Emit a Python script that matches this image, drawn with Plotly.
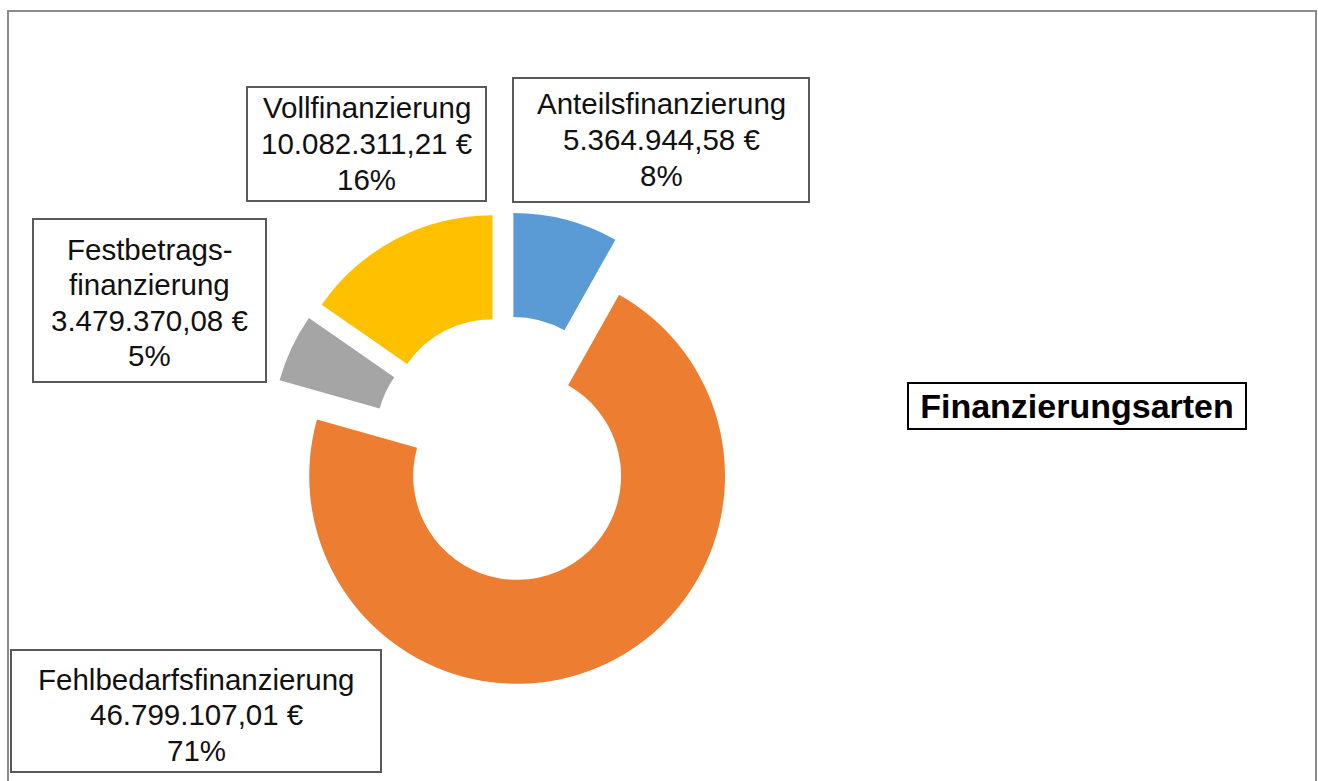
import plotly.graph_objects as go

# ---- data ----
categories = ["Anteilsfinanzierung", "Fehlbedarfsfinanzierung",
              "Festbetragsfinanzierung", "Vollfinanzierung"]
label_names = [["Anteilsfinanzierung"], ["Fehlbedarfsfinanzierung"],
               ["Festbetrags-", "finanzierung"], ["Vollfinanzierung"]]
amounts_eur = [5364944.58, 46799107.01, 3479370.08, 10082311.21]
percent_labels = ["8%", "71%", "5%", "16%"]
colors = ["#5B9BD5", "#ED7D31", "#A5A5A5", "#FFC000"]
title_text = "Finanzierungsarten"

W, H = 1318, 781
FONT = "Liberation Sans, Arial, sans-serif"


def fmt_eur(v):
    s = f"{v:,.2f}"
    s = s.replace(",", "X").replace(".", ",").replace("X", ".")
    return s + " €"


def px(x):
    return x / W


def py(y):
    return 1 - y / H


# pie placement (pixel centre and half-size including pull)
cx, cy, half = 506, 449, 237
pull = 0.14

fig = go.Figure(go.Pie(
    labels=categories,
    values=amounts_eur,
    sort=False,
    direction="clockwise",
    rotation=0,
    hole=0.5,
    pull=[pull] * len(categories),
    marker=dict(colors=colors, line=dict(width=0)),
    textinfo="none",
    showlegend=False,
    domain=dict(x=[px(cx - half), px(cx + half)],
                y=[py(cy + half), py(cy - half)]),
))

# label boxes: (x0, y0, x1, y1, first line centre y) in pixels
boxes = [
    (513, 78, 809, 202, 104),    # Anteils
    (11, 650, 381, 772, 679),    # Fehlbedarf
    (33, 219, 266, 382, 249),    # Festbetrag
    (247, 87, 486, 201, 108),    # Voll
]
line_step = 35.5

shapes = [dict(
    type="rect", xref="paper", yref="paper",
    x0=px(8), x1=px(1316), y0=py(800), y1=py(11),
    line=dict(color="#8C8C8C", width=2), fillcolor="rgba(0,0,0,0)",
    layer="below",
)]
annotations = []
for name_lines, amt, pct, (x0, y0, x1, y1, ly) in zip(
        label_names, amounts_eur, percent_labels, boxes):
    shapes.append(dict(
        type="rect", xref="paper", yref="paper",
        x0=px(x0), x1=px(x1), y0=py(y1), y1=py(y0),
        line=dict(color="#595959", width=2), fillcolor="white",
        layer="above",
    ))
    lines = name_lines + [fmt_eur(amt), pct]
    for i, t in enumerate(lines):
        annotations.append(dict(
            x=px((x0 + x1) / 2), y=py(ly + i * line_step),
            xref="paper", yref="paper",
            xanchor="center", yanchor="middle",
            text=t, showarrow=False,
            font=dict(family=FONT, size=29.5, color="#111111"),
        ))

annotations.append(dict(
    x=px(1077), y=py(406), xref="paper", yref="paper",
    xanchor="center", yanchor="middle",
    text=f"<b>{title_text}</b>", showarrow=False,
    font=dict(family=FONT, size=34, color="black"),
    align="center", valign="middle",
    width=340 - 8, height=48 - 8,
    bordercolor="black", borderwidth=2, borderpad=2, bgcolor="white",
))

fig.update_layout(
    width=W, height=H,
    margin=dict(l=0, r=0, t=0, b=0),
    paper_bgcolor="white", plot_bgcolor="white",
    annotations=annotations, shapes=shapes,
)

fig.write_html(
    "out.html",
    config={"displayModeBar": False},
    post_script="document.body.style.margin='0';"
                "document.body.style.overflow='hidden';",
)
